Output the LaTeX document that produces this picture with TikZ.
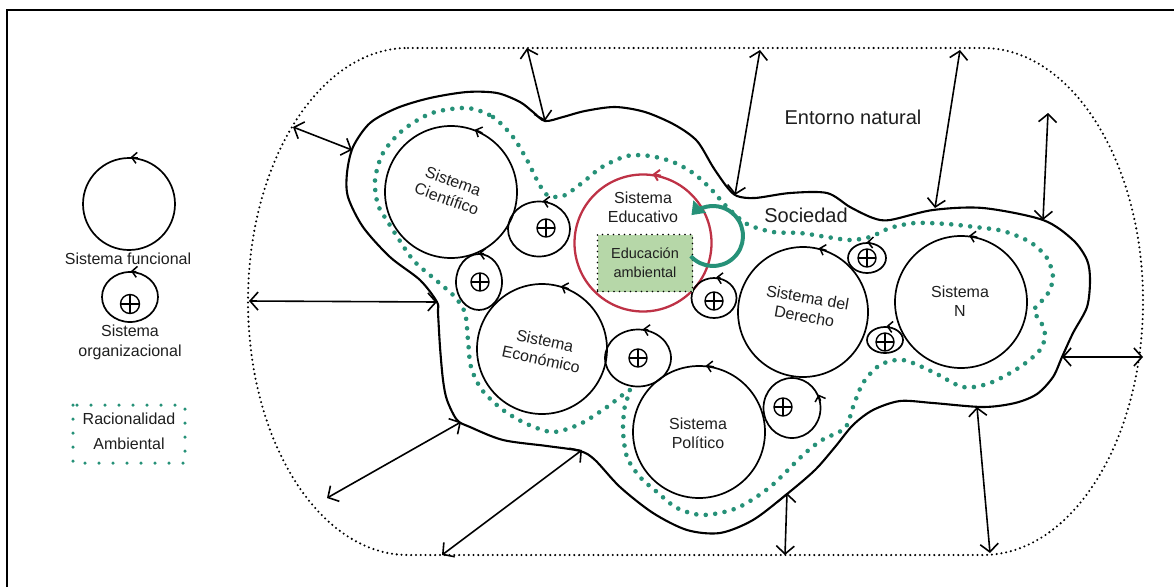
\documentclass[tikz,border=0pt]{standalone}
\usepackage{fontspec}
\setmainfont{Liberation Sans}
\usetikzlibrary{arrows.meta,shapes.geometric}
\definecolor{tealc}{RGB}{38,145,120}
\definecolor{redc}{RGB}{190,50,70}
\definecolor{greenbox}{RGB}{182,215,168}
\definecolor{txt}{RGB}{30,30,30}
\begin{document}
\begin{tikzpicture}[x=1pt,y=-1pt,
  funcsys/.style={circle, draw, line width=1.7pt, inner sep=0pt},
  orgsys/.style={ellipse, draw, line width=1.7pt, inner sep=0pt},
  plussym/.style={circle, draw, line width=1.4pt, minimum size=18pt, inner sep=0pt,
    path picture={\draw[line width=1.4pt] (path picture bounding box.north) -- (path picture bounding box.south)
      (path picture bounding box.east) -- (path picture bounding box.west);}},
  cyctip/.style={line width=1.5pt, -{Straight Barb[length=5pt,width=11pt]}},
  dbl/.style={line width=1.6pt, {Straight Barb[length=8pt,width=18pt]}-{Straight Barb[length=8pt,width=18pt]}},
  lab/.style={align=center, text=txt, font=\fontsize{16}{19}\selectfont, inner sep=0pt},
  biglab/.style={text=txt, font=\fontsize{20}{24}\selectfont, inner sep=0pt},
  outerdot/.style={line width=2.3pt, line cap=round, dash pattern=on 0pt off 4.8pt},
  ratdot/.style={tealc, line width=4.6pt, line cap=round, dash pattern=on 0pt off 9.5pt},
  blob/.style={line width=2.1pt}
]
\useasboundingbox (0,0) rectangle (1174,587);
% frame
\draw[line width=2.2pt] (7,587) -- (7,10) -- (1174,10);

% outer natural environment
\draw[outerdot] (408,48) -- (983,48) arc[start angle=-90, end angle=90, x radius=160, y radius=253.5]
  -- (408,555) arc[start angle=90, end angle=270, x radius=160, y radius=253.5] -- cycle;

% society blob
\draw[blob] plot[smooth cycle, tension=0.5] coordinates {
 (437,302) (420,280) (390,257) (363,227) (348,197) (347,173) (353,147) (370,123) (397,108)
 (430,98) (467,92) (497,93) (520,102) (533,112) (545,121) (563,117) (585,111) (615,107)
 (645,112) (675,125) (697,141) (713,167) (727,187) (737,196) (755,198) (790,193) (827,193)
 (850,207) (873,218) (890,220) (933,210) (983,208) (1043,220) (1073,240) (1087,260) (1090,280)
 (1087,307) (1073,333) (1062,357) (1053,377) (1037,394) (1015,403) (983,407) (933,403) (900,401)
 (873,410) (853,425) (835,447) (815,470) (787,494) (753,520) (720,533) (687,530) (653,513)
 (620,487) (595,460) (580,451) (547,446) (503,440) (470,427) (457,420) (447,400) (443,380)
 (440,347) (438,313)};

% environmental rationality
\draw[ratdot] plot[smooth cycle, tension=0.5] coordinates {
 (467,108) (493,117) (513,137) (527,160) (537,180) (547,195) (563,196) (582,183) (602,167)
 (627,156) (650,156) (673,162) (693,173) (710,188) (727,207) (747,224) (773,232) (800,233)
 (827,237) (850,240) (870,237) (890,228) (915,223) (947,224) (975,227) (1003,231) (1030,242)
 (1047,258) (1053,278) (1047,295) (1034,310) (1041,322) (1045,335) (1040,350) (1020,367)
 (990,383) (963,387) (933,372) (903,360) (880,365) (863,383) (853,407) (845,428) (822,440)
 (803,455) (770,487) (737,508) (703,515) (677,508) (657,492) (640,477) (627,457) (623,430)
 (625,405) (630,390) (607,407) (580,424) (553,432) (527,424) (503,410) (482,390) (471,367)
 (468,340) (465,313) (455,297) (437,281) (414,261) (398,238) (388,222) (378,205) (375,180)
 (383,153) (403,130) (432,113)};

% functional systems
\node[funcsys, minimum size=132pt] (cient) at (451,192) {};
\node[funcsys, minimum size=130pt] (econ) at (542,349) {};
\node[funcsys, minimum size=132pt] (polit) at (699,432) {};
\node[funcsys, minimum size=130pt] (derecho) at (803,312) {};
\node[funcsys, minimum size=132pt] (sisn) at (961,302) {};
\node[circle, draw=redc, line width=2.3pt, minimum size=137pt, inner sep=0pt] (educ) at (643,243) {};

\draw[cyctip] (cient.62) -- (cient.69);
\draw[cyctip] (econ.66) -- (econ.73);
\draw[cyctip] (polit.77) -- (polit.84);
\draw[cyctip] (derecho.69) -- (derecho.76);
\draw[cyctip] (sisn.76) -- (sisn.83);
\draw[cyctip, redc, line width=2pt] (educ.75) -- (educ.82);

% organizational systems
\node[orgsys, minimum width=62pt, minimum height=55pt] (oa) at (539,229) {};
\node[orgsys, minimum width=46pt, minimum height=56pt] (ob) at (479,282) {};
\node[orgsys, minimum width=45pt, minimum height=40pt] (oc) at (714,298) {};
\node[orgsys, minimum width=38pt, minimum height=30pt] (od) at (867,258) {};
\node[orgsys, minimum width=36pt, minimum height=26pt] (oe) at (885,340) {};
\node[orgsys, minimum width=57pt, minimum height=60pt] (of) at (792,408) {};
\node[orgsys, minimum width=66pt, minimum height=57pt] (og) at (638,358) {};

\node[plussym] (pa) at (546,228) {};
\node[plussym] (pb) at (480,282) {};
\node[plussym] (pc) at (714,301) {};
\node[plussym] (pd) at (867,258) {};
\node[plussym] (pe) at (885,342) {};
\node[plussym] (pf) at (783,407) {};
\node[plussym] (pg) at (638,358) {};

\draw[cyctip] (oa.72) -- (oa.82);
\draw[cyctip] (ob.80) -- (ob.90);
\draw[cyctip] (oc.72) -- (oc.84);
\draw[cyctip] (od.78) -- (od.90);
\draw[cyctip] (oe.70) -- (oe.84);
\draw[cyctip] (of.14) -- (of.27);
\draw[cyctip] (og.70) -- (og.80);

% educational environment box
\node[rectangle, fill=greenbox, draw, line width=1.8pt, line cap=round, dash pattern=on 0pt off 5.5pt,
  minimum width=95pt, minimum height=57pt, align=center, text=txt,
  font=\fontsize{14.5}{19}\selectfont] (edamb) at (645,263) {Educación\\ambiental};

% teal self-reference arrow
\coordinate (selfc) at (713,236);
\draw[tealc, line width=4pt, -{Triangle[length=12pt,width=17pt]}]
  ([shift={(138:30)}]selfc) arc[start angle=138, end angle=-136, radius=30];

% labels
\node[lab, rotate=-20] (lcient) at (450,190) {Sistema\\Científico};
\node[lab] (leduc) at (643,207) {Sistema\\Educativo};
\node[lab, rotate=-10] (lder) at (806,307) {Sistema del\\Derecho};
\node[lab, rotate=-12] (lecon) at (543,350) {Sistema\\Económico};
\node[lab] (lpol) at (698,433) {Sistema\\Político};
\node[lab] (lsisn) at (960,301) {Sistema\\N};
\node[biglab] (lent) at (853,117) {Entorno natural};
\node[biglab] (lsoc) at (806,215) {Sociedad};

% exchange arrows
\coordinate (e1) at (293,127);  \coordinate (s1) at (352,150);
\coordinate (e2) at (527,48);   \coordinate (s2) at (545,121);
\coordinate (e3) at (760,50);   \coordinate (s3) at (735,195);
\coordinate (e4) at (960,50);   \coordinate (s4) at (935,208);
\coordinate (e5) at (1048,113); \coordinate (s5) at (1043,220);
\coordinate (e6) at (1143,357); \coordinate (s6) at (1062,357);
\coordinate (e7) at (990,553);  \coordinate (s7) at (977,407);
\coordinate (e8) at (785,555);  \coordinate (s8) at (787,493);
\coordinate (e9) at (442,555);  \coordinate (s9) at (582,450);
\coordinate (e10) at (327,498); \coordinate (s10) at (461,422);
\coordinate (e11) at (249,301); \coordinate (s11) at (437,302);
\foreach \i in {1,...,11} {\draw[dbl] (e\i) -- (s\i);}

% legend
\node[funcsys, minimum size=92pt] (legf) at (129,204) {};
\draw[cyctip] (legf.79) -- (legf.88);
\node[lab] (leglf) at (128,259) {Sistema funcional};
\node[orgsys, minimum width=56pt, minimum height=50pt] (lego) at (130,297) {};
\node[plussym, minimum size=19pt] (legp) at (130,304) {};
\draw[cyctip] (lego.76) -- (lego.88);
\node[lab, font=\fontsize{16}{20}\selectfont] (leglo) at (130,342) {Sistema\\organizacional};
\draw[tealc, line width=3.5pt, line cap=round, dash pattern=on 0pt off 14pt] (73,405) rectangle (185,463);
\node[lab, font=\fontsize{16}{25}\selectfont] (leglr) at (129,431) {Racionalidad\\Ambiental};
\end{tikzpicture}
\end{document}
